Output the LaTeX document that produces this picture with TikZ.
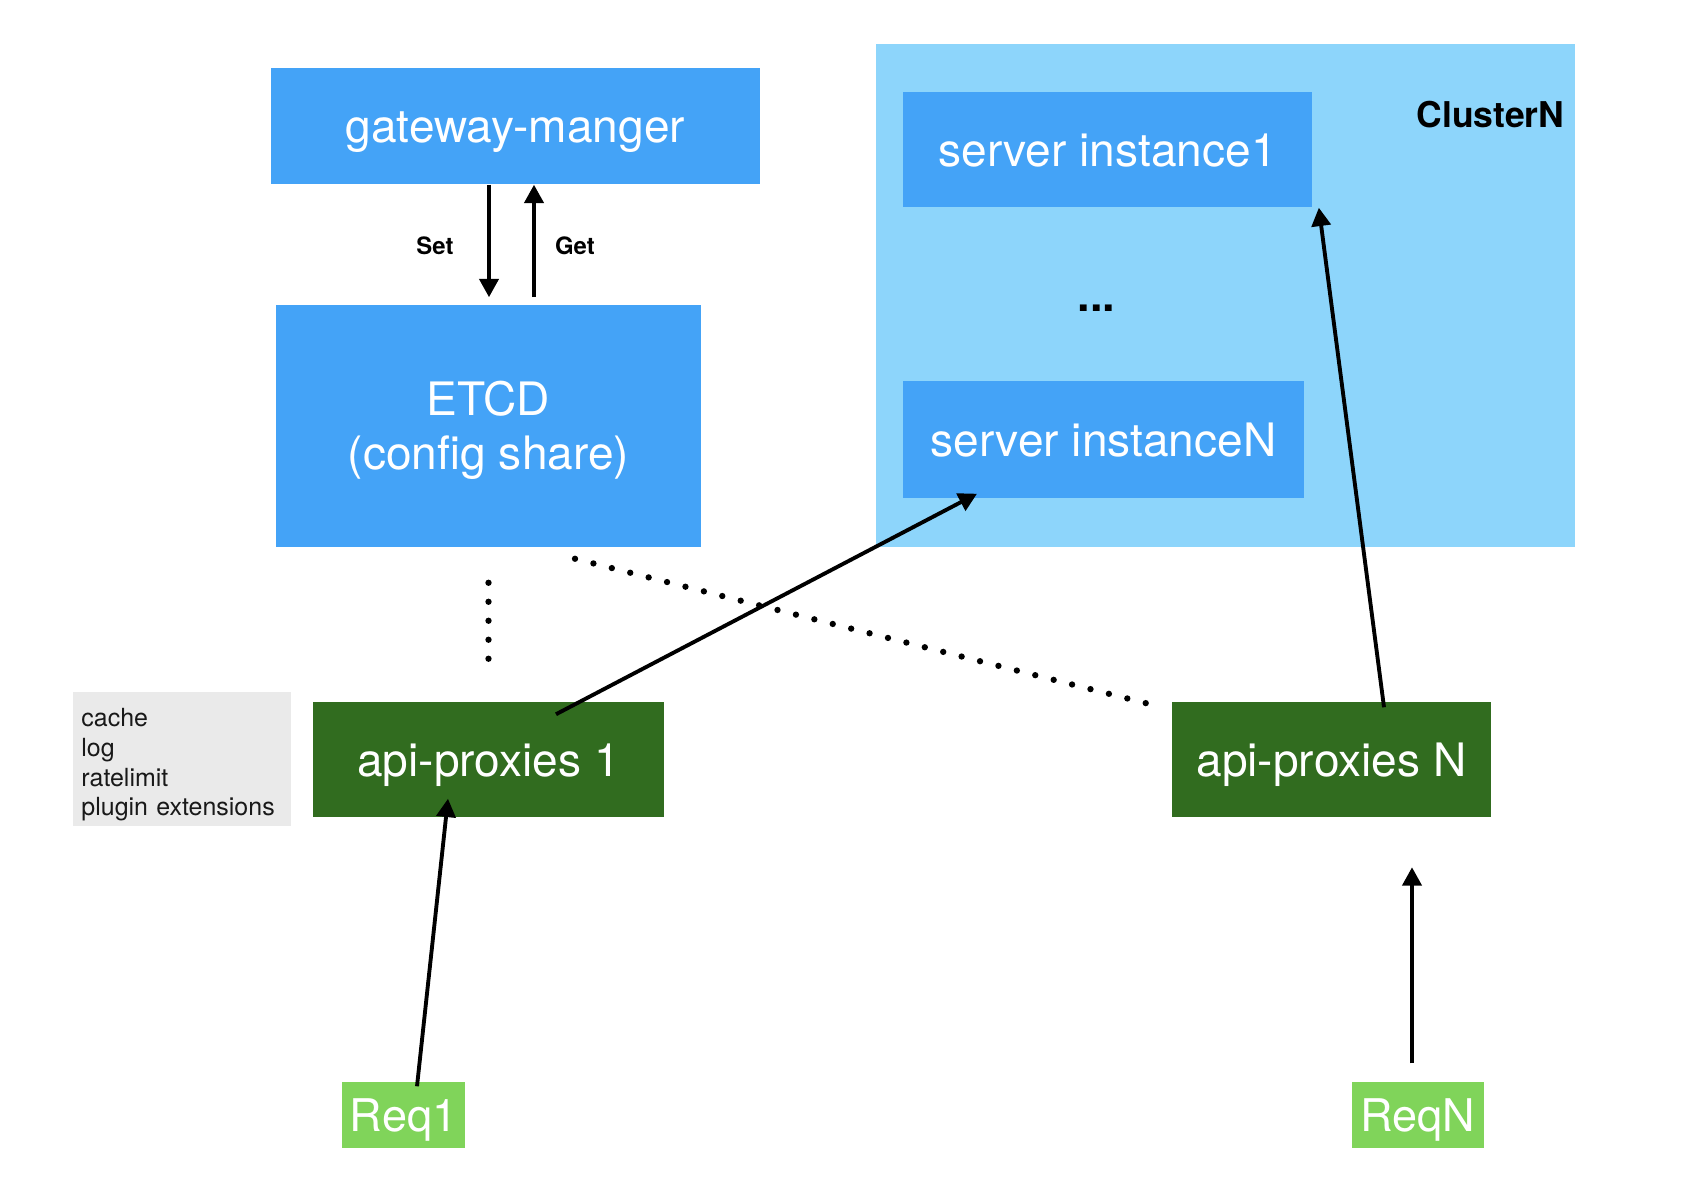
\documentclass[tikz,border=0pt]{standalone}
\usepackage{fontspec}
\setmainfont{TeX Gyre Heros}
\usetikzlibrary{calc}
\usetikzlibrary{arrows.meta}

\definecolor{boxblue}{HTML}{44A3F7}
\definecolor{clusterblue}{HTML}{8DD5FB}
\definecolor{proxygreen}{HTML}{316C1F}
\definecolor{reqgreen}{HTML}{80D45A}
\definecolor{notegray}{HTML}{EAEAEA}

\begin{document}
\begin{tikzpicture}[x=0.01cm, y=-0.01cm]
    \tikzstyle{service} = [fill=boxblue, text=white, inner sep=0pt, text height=9.4pt, text depth=0pt, font=\fontsize{13.1}{15.4}\selectfont]
    \tikzstyle{proxy} = [fill=proxygreen, text=white, inner sep=0pt, text height=9.4pt, text depth=0pt, minimum height=1.15cm, font=\fontsize{13.1}{15.4}\selectfont]
    \tikzstyle{request} = [fill=reqgreen, text=white, inner sep=0pt, text height=9.2pt, text depth=0pt, minimum height=0.66cm, font=\fontsize{12.8}{15.4}\selectfont]
    \tikzstyle{flow} = [line width=1.1pt, -{Triangle[length=5.2pt, width=5.4pt]}]
    \tikzstyle{link} = [line width=1.8pt, line cap=round, dash pattern=on 0pt off 5.4pt]
    \useasboundingbox (0,0) rectangle (1682,1198);
    % config side
    \node[service, minimum width=4.89cm, minimum height=1.16cm] (gw) at (515.5,126) {gateway-manger};
    \node[service, minimum width=4.25cm, minimum height=2.42cm, align=center, text height=24.8pt] (etcd) at (488.5,426) {ETCD\\(config share)};
    \draw[flow] ($(gw.south)+(-26.5,0)$) -- ($(etcd.north)+(0.5,-7)$);
    \draw[flow] ($(etcd.north)+(45.5,-7)$) -- ($(gw.south)+(18.5,0)$);
    \node[font=\bfseries\fontsize{6.8}{8}\selectfont] (setlbl) at (435,246) {Set};
    \node[font=\bfseries\fontsize{6.8}{8}\selectfont] (getlbl) at (575,246) {Get};
    % cluster
    \node[fill=clusterblue, minimum width=6.99cm, minimum height=5.03cm, inner sep=0pt] (cluster) at (1225.5,295.5) {};
    \node[font=\bfseries\fontsize{10.1}{12}\selectfont, inner sep=0pt, anchor=base east] (clustername) at (1565,128) {ClusterN};
    \node[service, minimum width=4.09cm, minimum height=1.15cm] (srv1) at (1107.5,149.5) {server instance1};
    \node[font=\bfseries\fontsize{12.8}{15.4}\selectfont, inner sep=0pt, anchor=base] (srvdots) at (1096.5,312) {...};
    \node[service, minimum width=4.01cm, minimum height=1.17cm] (srvn) at (1103.5,439.5) {server instanceN};
    % proxies
    \node[proxy, minimum width=3.51cm] (api1) at (488.5,759.5) {api-proxies 1};
    \node[proxy, minimum width=3.19cm] (apin) at (1331.5,759.5) {api-proxies N};
    \node[fill=notegray, text=black!90, align=left, text width=2.01cm, inner xsep=0.085cm, inner ysep=0pt, text height=5.5pt, text depth=24.1pt, minimum height=1.34cm, font=\fontsize{7.1}{8.5}\selectfont] (plugins) at (182,759) {cache\\log\\ratelimit\\plugin extensions};
    \node[request, minimum width=1.23cm] (req1) at (403.5,1115) {Req1};
    \node[request, minimum width=1.32cm] (reqn) at (1418,1115) {ReqN};
    % connectors
    \draw[link] ($(etcd.south)+(0,35)$) -- ($(api1.north)+(0,-27)$);
    \draw[link] ($(etcd.south)+(86.5,11)$) -- ($(apin.north west)+(-17,4)$);
    \draw[flow] ($(api1.north)+(67.5,13)$) -- ($(srvn.south)+(-126.5,-5)$);
    \draw[flow] ($(apin.north)+(52.5,6)$) -- ($(srv1.south east)+(6,0)$);
    \draw[flow] ($(req1.north)+(13.5,5)$) -- ($(api1.south)+(-40.5,-19)$);
    \draw[flow] ($(reqn.north)+(-6,-18)$) -- ($(reqn.north)+(-6,-214)$);
\end{tikzpicture}
\end{document}
